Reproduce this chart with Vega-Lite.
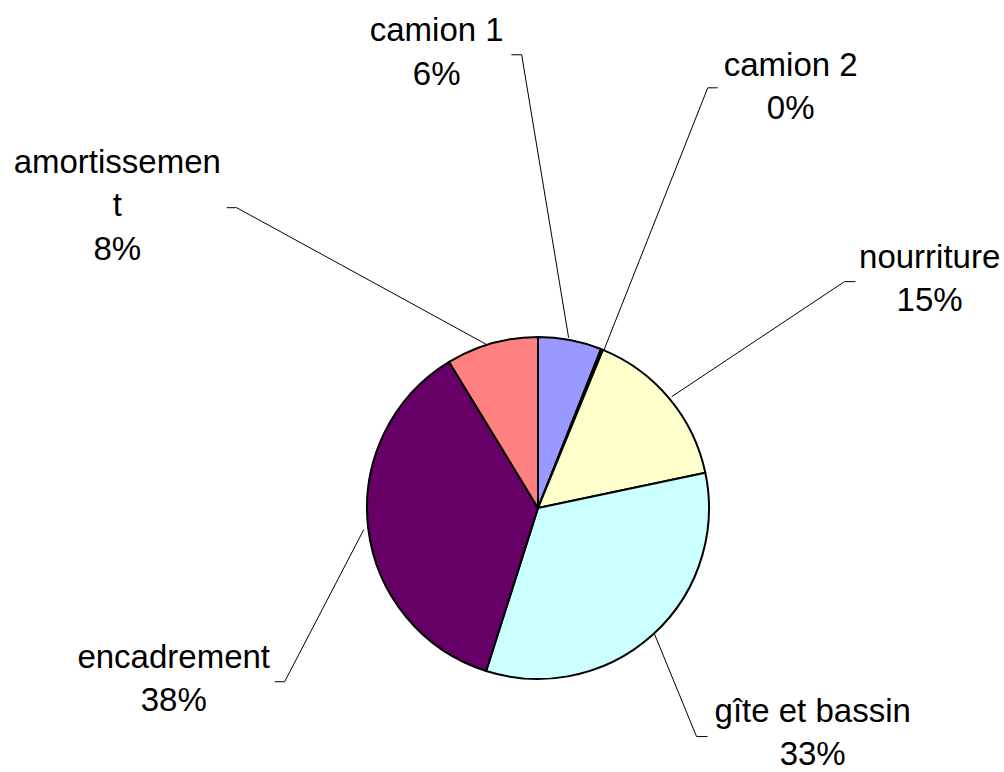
{
  "$schema": "https://vega.github.io/schema/vega-lite/v6.json",
  "width": 344,
  "height": 344,
  "autosize": {"type": "none"},
  "padding": {"left": 366, "top": 336, "right": 294, "bottom": 92},
  "background": "white",
  "config": {"view": {"stroke": null}},
  "datasets": {
    "slices": [
      {"category": "camion 1", "value": 6.0, "k": 1},
      {"category": "camion 2", "value": 0.2, "k": 2},
      {"category": "nourriture", "value": 15.5, "k": 3},
      {"category": "gîte et bassin", "value": 33.2, "k": 4},
      {"category": "encadrement", "value": 36.4, "k": 5},
      {"category": "amortissement", "value": 8.7, "k": 6}
    ],
    "labels": [
      {"category": "camion 1", "label": "camion 1\n6%", "lx": -0.589, "ly": 2.713},
      {"category": "camion 2", "label": "camion 2\n0%", "lx": 1.469, "ly": 2.513},
      {"category": "nourriture", "label": "nourriture\n15%", "lx": 2.277, "ly": 1.397},
      {"category": "gîte et bassin", "label": "gîte et bassin\n33%", "lx": 1.597, "ly": -1.244},
      {"category": "encadrement", "label": "encadrement\n38%", "lx": -2.118, "ly": -0.928},
      {"category": "amortissement", "label": "amortissemen\nt\n8%", "lx": -2.446, "ly": 1.949}
    ],
    "leaders": [
      {"category": "camion 1", "p": 1, "x": -0.155, "y": 2.635},
      {"category": "camion 1", "p": 2, "x": -0.095, "y": 2.635},
      {"category": "camion 1", "p": 3, "x": 0.178, "y": 0.99},
      {"category": "camion 2", "p": 1, "x": 1.045, "y": 2.443},
      {"category": "camion 2", "p": 2, "x": 0.987, "y": 2.443},
      {"category": "camion 2", "p": 3, "x": 0.382, "y": 0.915},
      {"category": "nourriture", "p": 1, "x": 1.846, "y": 1.316},
      {"category": "nourriture", "p": 2, "x": 1.782, "y": 1.316},
      {"category": "nourriture", "p": 3, "x": 0.777, "y": 0.647},
      {"category": "gîte et bassin", "p": 1, "x": 0.986, "y": -1.329},
      {"category": "gîte et bassin", "p": 2, "x": 0.922, "y": -1.329},
      {"category": "gîte et bassin", "p": 3, "x": 0.667, "y": -0.708},
      {"category": "encadrement", "p": 1, "x": -1.531, "y": -1.01},
      {"category": "encadrement", "p": 2, "x": -1.473, "y": -1.01},
      {"category": "encadrement", "p": 3, "x": -1.013, "y": -0.126},
      {"category": "amortissement", "p": 1, "x": -1.81, "y": 1.746},
      {"category": "amortissement", "p": 2, "x": -1.752, "y": 1.746},
      {"category": "amortissement", "p": 3, "x": -0.298, "y": 0.95}
    ]
  },
  "layer": [
    {
      "data": {"name": "leaders"},
      "mark": {"type": "line", "color": "black", "strokeWidth": 1},
      "encoding": {
        "x": {"field": "x", "type": "quantitative", "scale": {"domain": [-1, 1], "nice": false, "zero": false}, "axis": null},
        "y": {"field": "y", "type": "quantitative", "scale": {"domain": [-1, 1], "nice": false, "zero": false}, "axis": null},
        "detail": {"field": "category"},
        "order": {"field": "p", "type": "quantitative"}
      }
    },
    {
      "data": {"name": "slices"},
      "mark": {"type": "arc", "outerRadius": 171, "stroke": "black", "strokeWidth": 2, "strokeJoin": "round"},
      "encoding": {
        "theta": {"field": "value", "type": "quantitative", "stack": true},
        "order": {"field": "k", "type": "quantitative"},
        "color": {
          "field": "category",
          "type": "nominal",
          "legend": null,
          "scale": {
            "domain": ["camion 1", "camion 2", "nourriture", "gîte et bassin", "encadrement", "amortissement"],
            "range": ["#9999FF", "#993366", "#FFFFCC", "#CCFFFF", "#660066", "#FF8080"]
          }
        }
      }
    },
    {
      "data": {"name": "labels"},
      "mark": {"type": "text", "font": "Liberation Sans", "fontSize": 33, "color": "black", "align": "center", "baseline": "alphabetic", "lineBreak": "\n", "lineHeight": 43.5},
      "encoding": {
        "x": {"field": "lx", "type": "quantitative"},
        "y": {"field": "ly", "type": "quantitative"},
        "text": {"field": "label", "type": "nominal"}
      }
    }
  ]
}
